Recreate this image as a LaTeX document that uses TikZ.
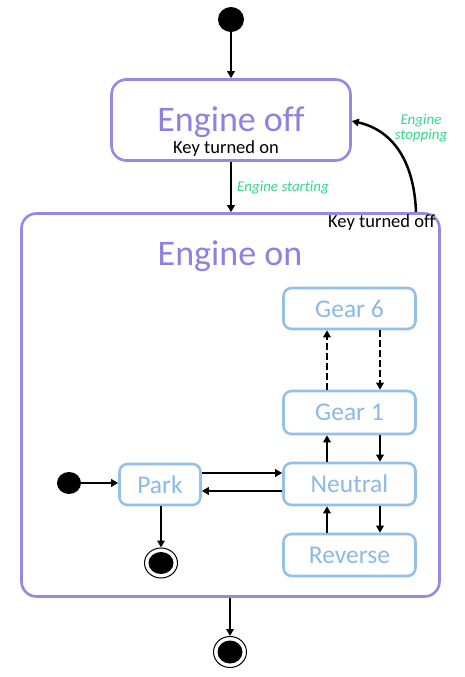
\documentclass[tikz,border=0pt]{standalone}
\usepackage{fontspec}
\setmainfont{Carlito}[Ligatures=CommonOff]
\usetikzlibrary{arrows.meta,shapes.geometric,calc}
\definecolor{purp}{RGB}{152,136,230}
\definecolor{purptxt}{RGB}{145,128,226}
\definecolor{bluebd}{RGB}{150,192,236}
\definecolor{bluetxt}{RGB}{140,185,232}
\definecolor{grn}{RGB}{55,215,140}
\tikzset{
  bigstate/.style={draw=purp, line width=2.6pt, rounded corners=15pt, fill=white},
  gearbox/.style={draw=bluebd, line width=2.6pt, rounded corners=8pt, minimum width=132pt, minimum height=41pt, inner sep=0pt, text=bluetxt, font=\fontsize{25.5}{28}\selectfont},
  arr/.style={line width=2.5pt, -{Triangle[length=7pt,width=7.5pt]}},
  darr/.style={arr, dash pattern=on 7pt off 3pt},
  initdot/.style={ellipse, fill=black, inner sep=0pt},
  guard/.style={font=\fontsize{18.5}{20}\selectfont, inner sep=0pt},
  action/.style={font=\fontsize{15}{16}\itshape, text=grn, inner sep=0pt},
  bigname/.style={font=\fontsize{36}{40}\selectfont, text=purptxt, inner sep=0pt}
}
\begin{document}
\begin{tikzpicture}[x=1pt,y=-1pt]
\useasboundingbox (0,0) rectangle (465,677);
% big states
\node[bigstate, minimum width=239pt, minimum height=81pt] (off) at (231,120) {};
\node[bigstate, minimum width=418pt, minimum height=383pt] (on) at (230.5,405) {};
\node[bigname, anchor=base] (offname) at (231,131) {Engine off};
\node[guard, anchor=base] (kon) at (226,153.5) {Key turned on};
\node[bigname, anchor=base] (onname) at (230,265) {Engine on};
\node[guard, anchor=base west] (koff) at (328,227) {Key turned off};
% initial top
\node[initdot, minimum width=26pt, minimum height=25pt] (init) at (231,19.5) {};
\draw[arr] (init) -- (off.north);
% engine starting
\draw[arr] (off.south) -- (on.north -| off.south);
\node[action, anchor=base west] (estart) at (237,191) {Engine starting};
% engine stopping
\coordinate (stopstart) at (416,212);
\draw[arr] (stopstart) .. controls (414,160) and (392,130) .. (off.east |- 0,121);
\node[action, align=center] (estop) at (421,128) {Engine\\[-1pt]stopping};
% gears
\node[gearbox] (g6) at (349.5,308.5) {Gear 6};
\node[gearbox, minimum height=43pt] (g1) at (349.5,412.5) {Gear 1};
\node[gearbox, minimum height=42pt] (neu) at (349.5,484) {Neutral};
\node[gearbox, minimum height=42pt] (rev) at (349.5,555) {Reverse};
\node[gearbox, minimum width=81pt, minimum height=41pt] (park) at (160,484.5) {Park};
\coordinate (xl) at (327,0);
\coordinate (xr) at (380,0);
\draw[darr] (g1.north -| xl) -- (g6.south -| xl);
\draw[darr] (g6.south -| xr) -- (g1.north -| xr);
\draw[arr] (neu.north -| xl) -- (g1.south -| xl);
\draw[arr] (g1.south -| xr) -- (neu.north -| xr);
\draw[arr] (rev.north -| xl) -- (neu.south -| xl);
\draw[arr] (neu.south -| xr) -- (rev.north -| xr);
\coordinate (ya) at (0,473);
\coordinate (yb) at (0,491);
\draw[arr] (park.east |- ya) -- (neu.west |- ya);
\draw[arr] (neu.west |- yb) -- (park.east |- yb);
% inner initial
\node[initdot, minimum width=24pt, minimum height=22pt] (init2) at (69,483) {};
\draw[arr] (init2) -- (park.west |- init2);
% inner final
\node[ellipse, draw=black, line width=1pt, fill=white, minimum width=33pt, minimum height=30pt, inner sep=0pt] (fin1) at (161,563) {};
\node[initdot, minimum width=25pt, minimum height=22pt] (fin1dot) at (fin1) {};
\draw[arr] (park.south -| fin1) -- (fin1.north);
% outer final
\node[ellipse, draw=black, line width=1pt, fill=white, minimum width=33pt, minimum height=31pt, inner sep=0pt] (fin2) at (230,652) {};
\node[initdot, minimum width=25pt, minimum height=23pt] (fin2dot) at (fin2) {};
\draw[arr] (on.south -| fin2) -- (fin2.north);
\end{tikzpicture}
\end{document}
